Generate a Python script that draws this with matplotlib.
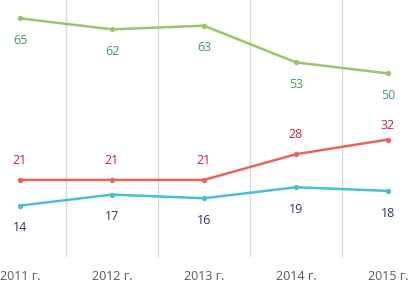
import matplotlib
matplotlib.use("Agg")
import matplotlib.pyplot as plt
from matplotlib.ticker import FixedLocator

years = ["2011 г.", "2012 г.", "2013 г.", "2014 г.", "2015 г."]
green = [65, 62, 63, 53, 50]
red = [21, 21, 21, 28, 32]
blue = [14, 17, 16, 19, 18]

plt.rcParams['font.family'] = ['Open Sans', 'DejaVu Sans']

fig = plt.figure(figsize=(4.08, 2.81), dpi=100)
W, H = 408, 281
ax = fig.add_axes([-26 / W, (H - 257) / H, 460 / W, 257 / H])
x = list(range(len(years)))

series = [
    (green, "#9DC46A", "#3E9B5F", 1),
    (red, "#E8655C", "#C0283C", -1),
    (blue, "#4DBCD6", "#2A3B5C", 1),
]
for vals, lc, tc, side in series:
    ax.plot(x, vals, color=lc, lw=1.8, marker='o', ms=2.8, zorder=3)
    for xi, v in zip(x, vals):
        off = -16 if side == 1 else 14
        if vals is red and xi == 4:
            off = 10
        ax.annotate(str(v), (xi, v), xytext=(0, off), textcoords='offset points',
                    ha='center', va='center', fontsize=9, color=tc)

ax.set_xlim(-0.5, 4.5)
ax.set_ylim(0, 70)
ax.set_xticks(x)
ax.set_xticklabels(years, fontsize=9, color="#595959")
ax.xaxis.set_minor_locator(FixedLocator([0.5, 1.5, 2.5, 3.5]))
ax.grid(True, which='minor', axis='x', color='#D9D9D9', lw=1)
ax.tick_params(axis='x', which='both', length=0, pad=9)
ax.set_yticks([])
for s in ax.spines.values():
    s.set_visible(False)

fig.savefig("out.png", dpi=100)
